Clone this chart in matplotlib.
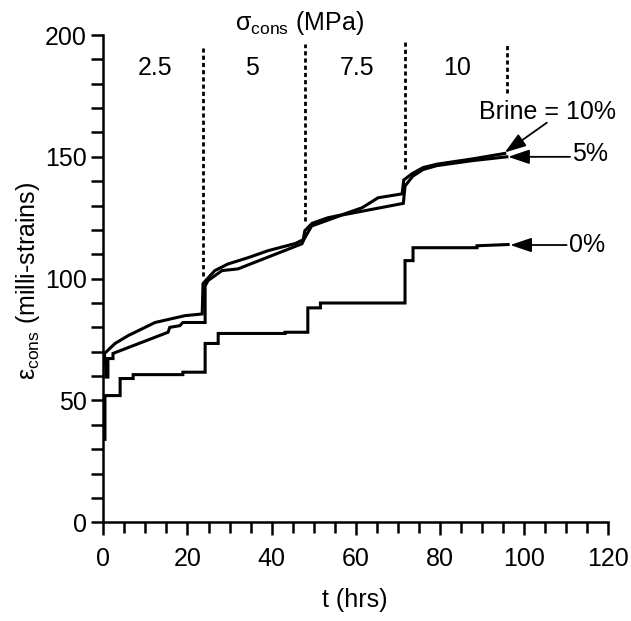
import matplotlib
matplotlib.use("Agg")
import matplotlib.pyplot as plt
from matplotlib.ticker import MultipleLocator

plt.rcParams['font.family'] = ['Liberation Sans', 'DejaVu Sans']
plt.rcParams['mathtext.fontset'] = 'custom'
plt.rcParams['mathtext.rm'] = 'Liberation Sans'
plt.rcParams['font.size'] = 18

# brine = 10 %
t_10 = [0.3, 2.8, 5.9, 12.3, 19.4, 23.5, 23.7, 26.5, 29.6, 34.4, 39.2, 45.6, 47.5,
        47.9, 49.6, 53.4, 56.7, 61.5, 65.3, 71.0, 71.4, 73.3, 76.0, 79.3, 87.9, 95.4]
e_10 = [69.3, 73.4, 76.6, 82.0, 84.8, 85.5, 98.0, 103.3, 106.0, 108.6, 111.5, 114.4, 116.0,
        119.7, 122.7, 125.0, 126.2, 129.1, 133.2, 134.8, 140.5, 143.0, 145.6, 147.0, 149.2, 151.4]

# brine = 5 %
t_5 = [0.3, 0.6, 0.6, 1.1, 1.1, 2.3, 2.3, 15.4, 15.8, 18.2, 18.9, 24.2, 24.2, 24.9,
       28.2, 32.0, 47.2, 47.9, 49.5, 56.7, 71.3, 71.7, 73.5, 76.0, 79.3, 88.0, 95.9]
e_5 = [68.4, 64.0, 59.6, 59.6, 67.2, 67.2, 69.3, 78.0, 80.0, 80.7, 82.0, 82.0, 97.0, 99.2,
       103.3, 104.0, 114.3, 116.8, 121.6, 126.1, 130.9, 138.0, 142.0, 144.8, 146.4, 148.5, 150.0]

# brine = 0 %
t_0 = [0.4, 0.4, 4.0, 4.0, 7.1, 7.1, 18.9, 18.9, 24.2, 24.2, 27.3, 27.3, 43.2, 43.2,
       48.6, 48.6, 51.6, 51.6, 71.7, 71.7, 73.6, 73.6, 88.8, 88.8, 96.2]
e_0 = [34.0, 52.0, 52.0, 59.0, 59.0, 60.6, 60.6, 61.6, 61.6, 73.4, 73.4, 77.5, 77.5, 78.0,
       78.0, 88.0, 88.0, 90.0, 90.0, 107.4, 107.4, 112.7, 112.7, 113.5, 114.0]

# stress stages
stage_t = [23.6, 47.9, 71.7, 95.9]
stage_lo = [101, 123.8, 145, 176]
stage_hi = [195.5, 196.3, 197.5, 196.7]
stress_labels = ['2.5', '5', '7.5', '10']
stress_x = [12.3, 35.3, 60.2, 84.0]

fig = plt.figure(figsize=(6.31, 6.21), dpi=100)
ax = fig.add_axes([0.1637, 0.159, 0.8003, 0.7846])

for t, e in [(t_10, e_10), (t_5, e_5), (t_0, e_0)]:
    ax.plot(t, e, color='black', lw=2.2, solid_joinstyle='miter')

for x, lo, hi in zip(stage_t, stage_lo, stage_hi):
    ax.plot([x, x], [lo, hi], color='black', lw=2.0, linestyle=(0, (1.5, 1.1)))

for x, s in zip(stress_x, stress_labels):
    ax.text(x, 186.6, s, ha='center', va='center')

ax.text(46.7, 205, r'σ$_{\mathregular{cons}}$ (MPa)', ha='center', va='center', clip_on=False)

arrow = dict(arrowstyle='-|>,head_length=0.65,head_width=0.22', mutation_scale=20,
             color='black', lw=1.3, shrinkA=0, shrinkB=0)
ax.annotate('', xy=(95.4, 151.8), xytext=(105.4, 164.0), arrowprops=arrow)
ax.text(105.6, 168.4, 'Brine = 10%', ha='center', va='center')
ax.annotate('', xy=(96.2, 150.0), xytext=(110.9, 150.0), arrowprops=arrow)
ax.text(111.4, 151.0, '5%', ha='left', va='center')
ax.annotate('', xy=(96.7, 113.8), xytext=(110.1, 113.8), arrowprops=arrow)
ax.text(110.7, 113.8, '0%', ha='left', va='center')

ax.set_xlim(0, 120)
ax.set_ylim(0, 200)
ax.spines['top'].set_visible(False)
ax.spines['right'].set_visible(False)
for s in ['left', 'bottom']:
    ax.spines[s].set_linewidth(1.8)

ax.xaxis.set_major_locator(MultipleLocator(20))
ax.xaxis.set_minor_locator(MultipleLocator(5))
ax.yaxis.set_major_locator(MultipleLocator(50))
ax.yaxis.set_minor_locator(MultipleLocator(10))
ax.tick_params(axis='x', which='major', direction='out', length=9.5, width=1.8, pad=8)
ax.tick_params(axis='x', which='minor', direction='out', length=8, width=1.8)
ax.tick_params(axis='y', which='both', direction='out', length=9, width=1.8, pad=3)

ax.text(0.498, -0.16, 't (hrs)', transform=ax.transAxes, ha='center', va='center')
ax.text(-0.15, 0.496, r'ε$_{\mathregular{cons}}$ (milli-strains)', transform=ax.transAxes,
        ha='center', va='center', rotation=90)

fig.savefig('out.png', dpi=100)
